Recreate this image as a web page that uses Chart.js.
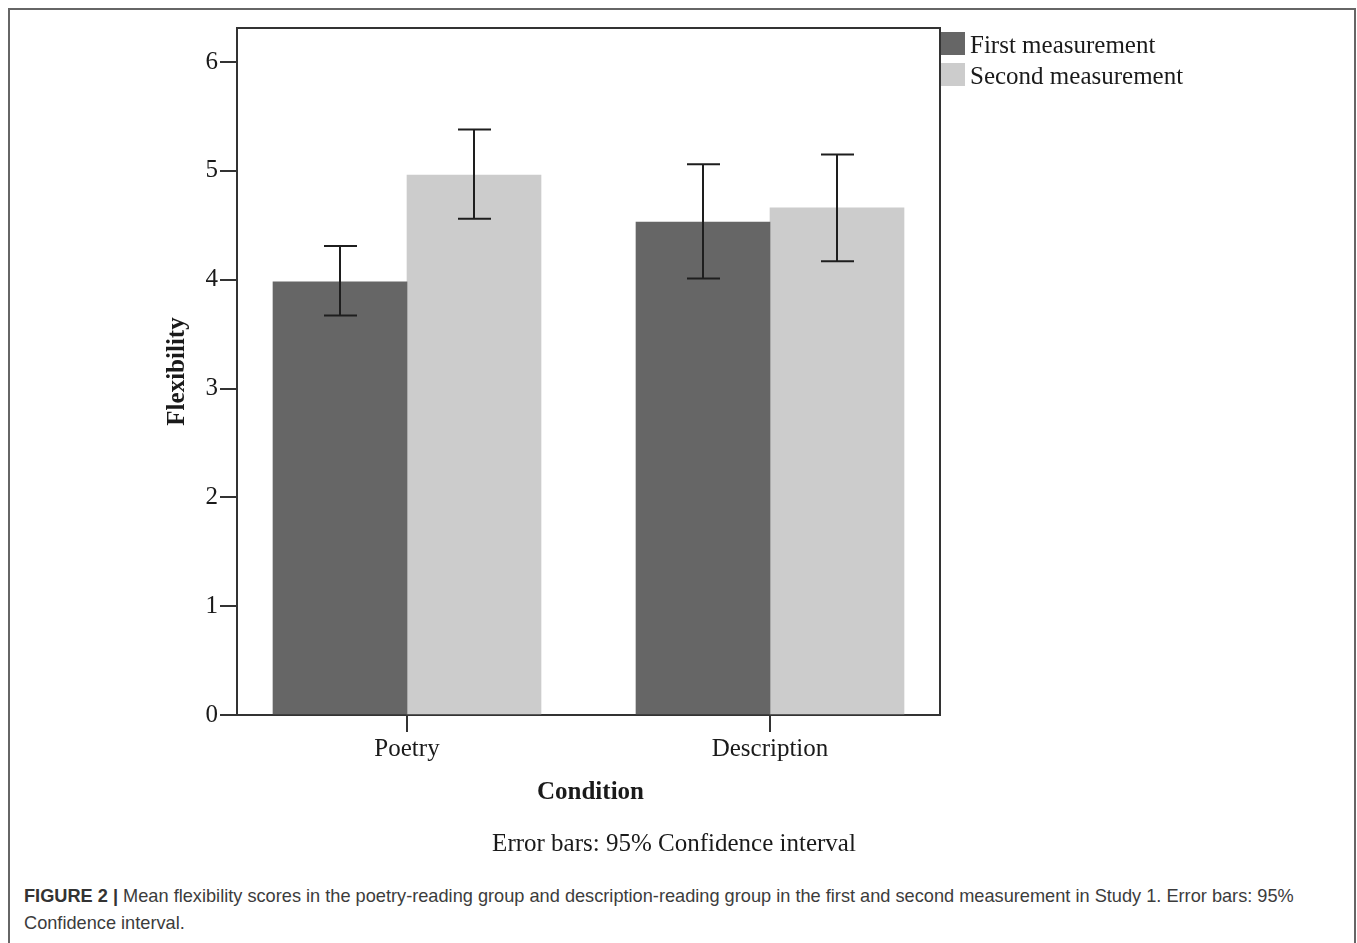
<!DOCTYPE html>
<html>
<head>
<meta charset="utf-8">
<script src="https://cdn.jsdelivr.net/npm/chart.js@4"></script>
<style>
  body { margin: 0; background: #fff; overflow: hidden; }
  #frame { position: absolute; left: 8px; top: 8px; width: 1348px; height: 1000px; border: 2px solid #666; box-sizing: border-box; }
  #chart { position: absolute; left: 0; top: 0; }
  #caption { position: absolute; left: 24px; top: 883px; width: 1320px; font-family: "Liberation Sans Narrow", "Liberation Sans", Arial, sans-serif; font-size: 18.2px; line-height: 27px; color: #3c3c3c; }
  #caption b { color: #333; }
</style>
</head>
<body>
<div id="frame"></div>
<canvas id="chart" width="1357" height="870"></canvas>
<div id="caption"><b>FIGURE 2 |</b> Mean flexibility scores in the poetry-reading group and description-reading group in the first and second measurement in Study 1. Error bars: 95% Confidence interval.</div>
<script>
// values
const categories = ['Poetry', 'Description'];
const seriesNames = ['First measurement', 'Second measurement'];
const firstMeans = [3.98, 4.53];
const firstLow = [3.67, 4.01];
const firstHigh = [4.31, 5.06];
const secondMeans = [4.96, 4.66];
const secondLow = [4.56, 4.17];
const secondHigh = [5.38, 5.15];
const yTicks = [0, 1, 2, 3, 4, 5, 6];

const serif = '"Liberation Serif", "Times New Roman", serif';

const extras = {
  id: 'extras',
  afterDatasetsDraw (chart) {
    const { ctx, chartArea } = chart;
    const y = chart.scales.y;
    const lows = [firstLow, secondLow];
    const highs = [firstHigh, secondHigh];

    // error bars
    ctx.save();
    ctx.strokeStyle = '#1e1e1e';
    ctx.lineWidth = 2;
    chart.data.datasets.forEach((ds, di) => {
      chart.getDatasetMeta(di).data.forEach((bar, i) => {
        const top = y.getPixelForValue(highs[di][i]);
        const bot = y.getPixelForValue(lows[di][i]);
        ctx.beginPath();
        ctx.moveTo(bar.x, top); ctx.lineTo(bar.x, bot);
        ctx.moveTo(bar.x - 16, top); ctx.lineTo(bar.x + 17, top);
        ctx.moveTo(bar.x - 16, bot); ctx.lineTo(bar.x + 17, bot);
        ctx.stroke();
      });
    });

    // plot frame, top and right
    ctx.strokeStyle = '#333';
    ctx.beginPath();
    ctx.moveTo(chartArea.left, chartArea.top);
    ctx.lineTo(chartArea.right, chartArea.top);
    ctx.lineTo(chartArea.right, chartArea.bottom);
    ctx.stroke();

    // legend
    ctx.textBaseline = 'middle';
    ctx.textAlign = 'left';
    ctx.font = '25px ' + serif;
    chart.data.datasets.forEach((ds, di) => {
      const top = 32 + di * 31;
      ctx.fillStyle = ds.backgroundColor;
      ctx.fillRect(chartArea.right + 1, top, 24, 23);
      ctx.fillStyle = '#1a1a1a';
      ctx.fillText(ds.label, chartArea.right + 30, top + 14);
    });

    // axis titles and note
    ctx.textAlign = 'center';
    ctx.font = 'bold 25px ' + serif;
    ctx.fillText('Condition', (chartArea.left + chartArea.right) / 2 + 2, 793);
    ctx.save();
    ctx.translate(178, (chartArea.top + chartArea.bottom) / 2);
    ctx.rotate(-Math.PI / 2);
    ctx.fillText('Flexibility', 0, 0);
    ctx.restore();
    ctx.font = '25px ' + serif;
    ctx.fillText('Error bars: 95% Confidence interval', 674, 844);
    ctx.restore();
  }
};

new Chart(document.getElementById('chart'), {
  type: 'bar',
  data: {
    datasets: [
      {
        label: seriesNames[0],
        data: firstMeans.map((v, i) => ({ x: i, y: v })),
        backgroundColor: '#666666'
      },
      {
        label: seriesNames[1],
        data: secondMeans.map((v, i) => ({ x: i, y: v })),
        backgroundColor: '#cccccc'
      }
    ]
  },
  options: {
    responsive: false,
    animation: false,
    devicePixelRatio: 1,
    barThickness: 134,
    layout: { padding: { left: 137, right: 417, top: 28, bottom: 0 } },
    plugins: { legend: { display: false }, tooltip: { enabled: false } },
    scales: {
      x: {
        type: 'linear',
        offset: false,
        min: -170 / 363,
        max: 533 / 363,
        afterFit: scale => { scale.height = 155; },
        afterBuildTicks: scale => { scale.ticks = categories.map((c, i) => ({ value: i })); },
        grid: { offset: false, drawOnChartArea: false, drawTicks: true, tickLength: 17, color: '#333', lineWidth: 2 },
        border: { display: true, color: '#333', width: 2 },
        ticks: {
          autoSkip: false,
          maxRotation: 0,
          padding: 2,
          color: '#1a1a1a',
          font: { family: serif, size: 25 },
          callback: v => categories[Math.round(v)]
        }
      },
      y: {
        min: 0,
        max: 687 / 108.83,
        afterFit: scale => { scale.width = 100; },
        afterBuildTicks: scale => { scale.ticks = yTicks.map(v => ({ value: v })); },
        grid: { drawOnChartArea: false, drawTicks: true, tickLength: 17, color: '#333', lineWidth: 2 },
        border: { display: true, color: '#333', width: 2 },
        ticks: {
          padding: 2,
          color: '#1a1a1a',
          font: { family: serif, size: 25 }
        }
      }
    }
  },
  plugins: [extras]
});
</script>
</body>
</html>
